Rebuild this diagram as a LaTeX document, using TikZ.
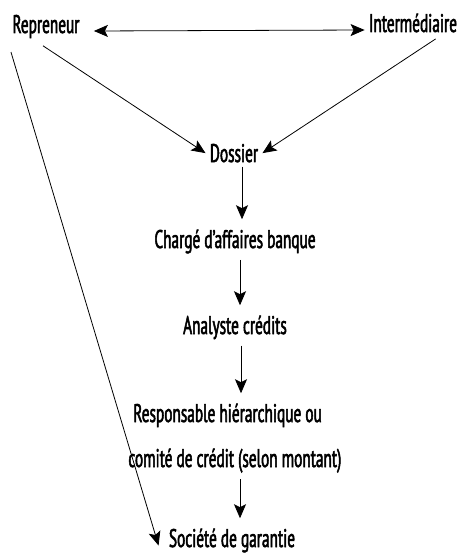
\documentclass[tikz,border=0pt]{standalone}
\usepackage{fontspec}
\setmainfont[FakeStretch=0.6, FakeBold=2]{PT Sans}
\usetikzlibrary{calc, arrows.meta}

\begin{document}
\begin{tikzpicture}[x=1pt, y=-1pt, font=\fontsize{25.5}{30}\selectfont,
  >={Stealth[length=14pt, width=12pt, inset=3pt]}, line width=.8pt,
  every node/.style={inner sep=4pt, anchor=base}]
\useasboundingbox (0, 0) rectangle (465, 553);
% top row
\node at (46, 33) [name=rep] {Repreneur};
\node at (413, 32) [name=int] {Intermédiaire};
\draw [<->] ([xshift=10pt, yshift=2pt]rep.base east) -- ([yshift=2pt]int.base west);
% chain
\node at (234, 162) [name=dos] {Dossier};
\node at (235, 248) [name=cha] {Chargé d’affaires banque};
\node at (235, 334) [name=ana] {Analyste crédits};
\node at (129, 422) [name=res, anchor=base west] {Responsable hiérarchique ou};
\node at (124, 467) [name=com, anchor=base west] {comité de crédit (selon montant)};
\node at (232, 547) [name=soc] {Société de garantie};
\draw [->, shorten <=6pt] ([xshift=-8pt]rep.south) -- (dos.west);
\draw [->, shorten <=4pt] ([xshift=26pt]int.south) -- (dos.east);
\draw [->, shorten <=10pt] (rep.south west) -- ([xshift=-6pt, yshift=-5pt]soc.west);
\draw [->, shorten >=6pt] ([xshift=8pt]dos.south) -- ([xshift=8pt]dos.south |- cha.north);
\draw [->, shorten <=2pt, shorten >=6pt] ([xshift=5pt]cha.south) -- ([xshift=5pt]cha.south |- ana.north);
\draw [->, shorten <=2pt, shorten >=6pt] ([xshift=6pt]ana.south) -- ([xshift=6pt]ana.south |- res.north);
\draw [->, shorten <=2pt, shorten >=6pt] ([xshift=5pt]cha.south |- com.south) -- ([xshift=5pt]cha.south |- soc.north);
\end{tikzpicture}
\end{document}
